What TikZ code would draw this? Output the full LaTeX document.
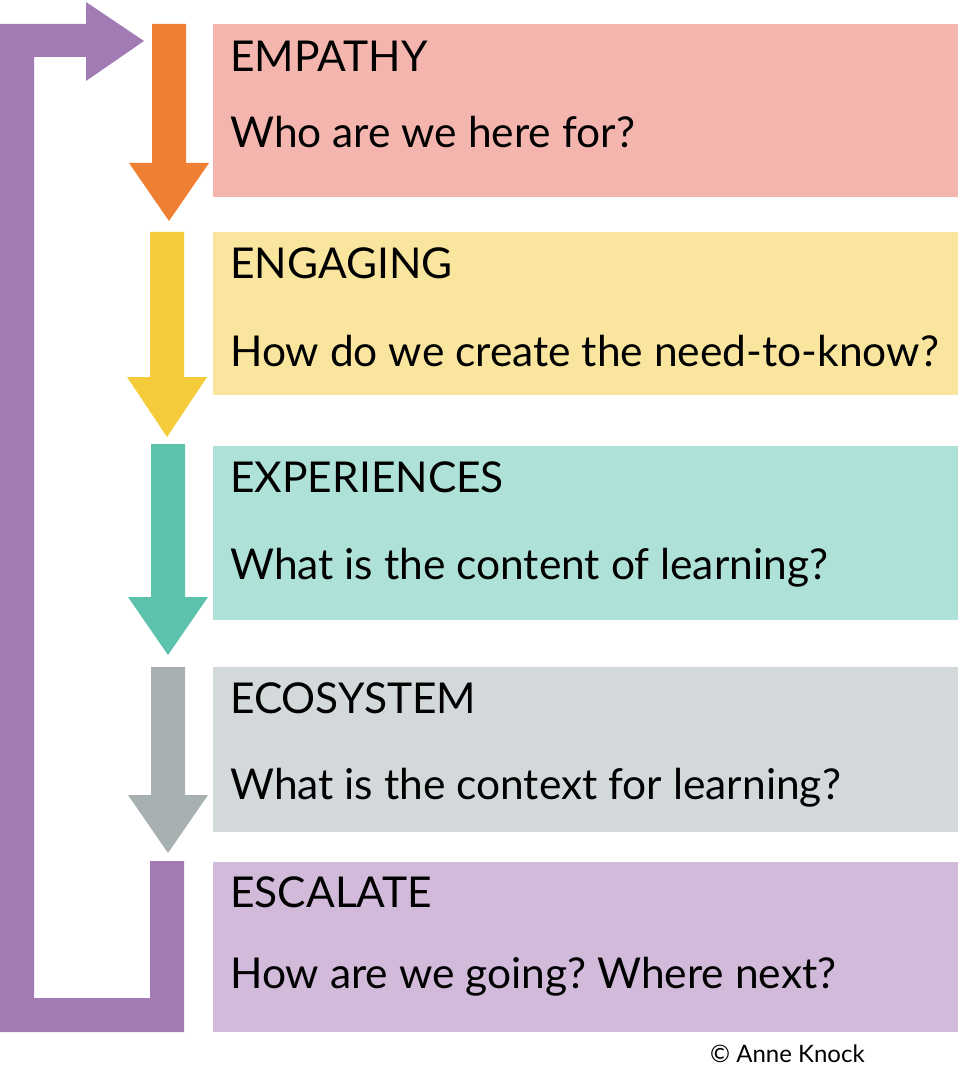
\documentclass[tikz,border=0pt]{standalone}
\usepackage{fontspec}
\setmainfont{Lato}
\usepackage{tikz}
\usepackage{xcolor}
\usetikzlibrary{positioning}
\frenchspacing
\definecolor{orangearr}{HTML}{EF7F33}
\definecolor{pinkbox}{HTML}{F4B5AF}
\definecolor{yellowarr}{HTML}{F4CB3B}
\definecolor{yellowbox}{HTML}{F9E59D}
\definecolor{tealarr}{HTML}{5DC2AB}
\definecolor{tealbox}{HTML}{AEE2D8}
\definecolor{grayarr}{HTML}{A8B1B2}
\definecolor{graybox}{HTML}{D3D8DB}
\definecolor{purplearr}{HTML}{A37BB4}
\definecolor{purplebox}{HTML}{D1BADA}
\tikzset{%
	stagebox/.style = {rectangle, inner sep=0pt, anchor=north west, minimum width=745pt},
	title/.style    = {anchor=base west, inner sep=0pt, font=\fontsize{42.5}{50}\selectfont},
	question/.style = {anchor=base west, inner sep=0pt, font=\fontsize{42.5}{50}\selectfont},
}
\begin{document}
\begin{tikzpicture}[x=1pt,y=-1pt]
	
	\useasboundingbox (0,0) rectangle (977,1083);
	
	% stage boxes
	\node[stagebox, fill=pinkbox, minimum height=173pt]   (empathy)     at (213,24)  {};
	\node[stagebox, fill=yellowbox, minimum height=163pt] (engaging)    at (213,232) {};
	\node[stagebox, fill=tealbox, minimum height=174pt]   (experiences) at (213,446) {};
	\node[stagebox, fill=graybox, minimum height=165pt]   (ecosystem)   at (213,667) {};
	\node[stagebox, fill=purplebox, minimum height=170pt] (escalate)    at (213,862) {};
	
	% titles and questions
	\node[title] (empathyT) at (230,72) {EMPATHY};
	\node[question] (empathyQ) at (230,148) {Who are we here for?};
	\node[title] (engagingT) at (230,278) {ENGAGING};
	\node[question] (engagingQ) at (230,366) {How do we create the need-to-know?};
	\node[title] (experiencesT) at (230,492) {EXPERIENCES};
	\node[question] (experiencesQ) at (230,579) {What is the content of learning?};
	\node[title] (ecosystemT) at (230,713) {ECOSYSTEM};
	\node[question] (ecosystemQ) at (230,799) {What is the context for learning?};
	\node[title] (escalateT) at (230,907) {ESCALATE};
	\node[question] (escalateQ) at (230,988) {How are we going? Where next?};
	
	% down arrows
	\fill[orangearr] (152,24) -- (186,24) -- (186,163) -- (209,163) -- (169,221) -- (129,163) -- (152,163) -- cycle;
	\fill[yellowarr] (150,232) -- (184,232) -- (184,377) -- (207,377) -- (167,437) -- (127,377) -- (150,377) -- cycle;
	\fill[tealarr] (151,444) -- (185,444) -- (185,597) -- (208,597) -- (168,655) -- (128,597) -- (151,597) -- cycle;
	\fill[grayarr] (151,667) -- (185,667) -- (185,795) -- (208,795) -- (168,853) -- (128,795) -- (151,795) -- cycle;
	
	% loop back to the top
	\fill[purplearr] (150,861) -- (184,861) -- (184,1032) -- (0,1032) -- (0,24) -- (86,24) -- (86,2)
		-- (144,41) -- (86,81) -- (86,57) -- (34,57) -- (34,998) -- (150,998) -- cycle;
	
	\node[anchor=base west, inner sep=0pt, font=\fontsize{24}{28}\selectfont] (credit) at (710,1062) {© Anne Knock};
	
\end{tikzpicture}
\end{document}
